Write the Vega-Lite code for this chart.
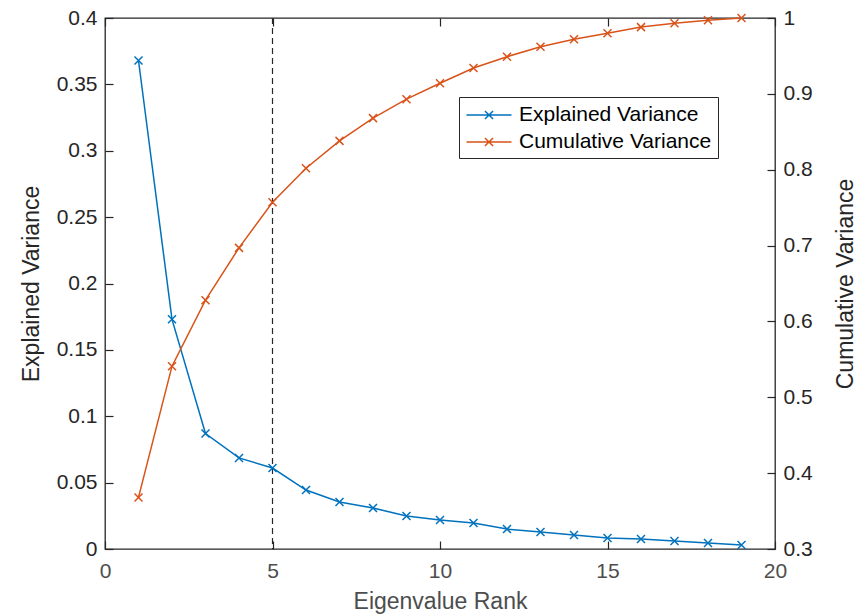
{
  "$schema": "https://vega.github.io/schema/vega-lite/v6.json",
  "width": 670,
  "height": 531,
  "autosize": {"type": "none"},
  "padding": {"left": 105, "top": 18, "right": 87, "bottom": 66},
  "config": {
    "font": "Liberation Sans",
    "view": {"stroke": "#262626", "strokeWidth": 1.3},
    "axis": {
      "grid": false,
      "domain": false,
      "labelFlush": false,
      "tickColor": "#262626",
      "tickWidth": 1.2,
      "tickSize": -8,
      "labelFontSize": 21,
      "titleFontSize": 23,
      "titleFontWeight": "normal",
      "labelColor": "#262626",
      "titleColor": "#262626"
    }
  },
  "data": {
    "values": [
      {"rank": 1, "explained": 0.368, "cumulative": 0.368},
      {"rank": 2, "explained": 0.173, "cumulative": 0.541},
      {"rank": 3, "explained": 0.087, "cumulative": 0.628},
      {"rank": 4, "explained": 0.0686, "cumulative": 0.697},
      {"rank": 5, "explained": 0.061, "cumulative": 0.757},
      {"rank": 6, "explained": 0.0444, "cumulative": 0.802},
      {"rank": 7, "explained": 0.0354, "cumulative": 0.838},
      {"rank": 8, "explained": 0.0309, "cumulative": 0.868},
      {"rank": 9, "explained": 0.0249, "cumulative": 0.893},
      {"rank": 10, "explained": 0.0218, "cumulative": 0.914},
      {"rank": 11, "explained": 0.0196, "cumulative": 0.934},
      {"rank": 12, "explained": 0.015, "cumulative": 0.949},
      {"rank": 13, "explained": 0.0128, "cumulative": 0.962},
      {"rank": 14, "explained": 0.0105, "cumulative": 0.972},
      {"rank": 15, "explained": 0.0083, "cumulative": 0.98},
      {"rank": 16, "explained": 0.0075, "cumulative": 0.988},
      {"rank": 17, "explained": 0.006, "cumulative": 0.993},
      {"rank": 18, "explained": 0.0045, "cumulative": 0.997},
      {"rank": 19, "explained": 0.003, "cumulative": 1.0}
    ]
  },
  "layer": [
    {
      "data": {"values": [{"cutoff": 5}]},
      "mark": {"type": "rule", "color": "#262626", "strokeWidth": 1.2, "strokeDash": [6, 4]},
      "encoding": {
        "x": {
          "field": "cutoff",
          "type": "quantitative",
          "scale": {"domain": [0, 20], "nice": false},
          "axis": {"orient": "top", "labels": false, "title": null, "values": [0, 5, 10, 15, 20]}
        }
      }
    },
    {
      "mark": {
        "type": "line",
        "strokeWidth": 1.5,
        "point": {"shape": "M-1,-1L1,1M-1,1L1,-1", "filled": false, "size": 64, "strokeWidth": 1.5}
      },
      "encoding": {
        "x": {
          "field": "rank",
          "type": "quantitative",
          "scale": {"domain": [0, 20], "nice": false},
          "axis": {
            "orient": "bottom",
            "title": "Eigenvalue Rank",
            "values": [0, 5, 10, 15, 20],
            "labelPadding": 19,
            "titlePadding": 9,
            "labelColor": "#4d4d4d",
            "titleColor": "#4d4d4d"
          }
        },
        "y": {
          "field": "explained",
          "type": "quantitative",
          "scale": {"domain": [0, 0.4], "nice": false},
          "axis": {
            "orient": "left",
            "title": "Explained Variance",
            "values": [0, 0.05, 0.1, 0.15, 0.2, 0.25, 0.3, 0.35, 0.4],
            "format": "~g",
            "labelPadding": 16,
            "titlePadding": 13
          }
        },
        "color": {
          "datum": "Explained Variance",
          "type": "nominal",
          "scale": {"domain": ["Explained Variance", "Cumulative Variance"], "range": ["#0072BD", "#D95319"]},
          "legend": {
            "orient": "none",
            "legendX": 354,
            "legendY": 79,
            "title": null,
            "strokeColor": "#262626",
            "fillColor": "white",
            "padding": 6,
            "labelFontSize": 21,
            "labelLimit": 400,
            "labelColor": "#000000",
            "labelOffset": 18,
            "rowPadding": 5,
            "symbolType": "M-2,0L2,0M-0.36,-0.36L0.36,0.36M-0.36,0.36L0.36,-0.36",
            "symbolSize": 506,
            "symbolOffset": 12,
            "symbolStrokeWidth": 1.5
          }
        }
      }
    },
    {
      "mark": {
        "type": "line",
        "strokeWidth": 1.5,
        "point": {"shape": "M-1,-1L1,1M-1,1L1,-1", "filled": false, "size": 64, "strokeWidth": 1.5}
      },
      "encoding": {
        "x": {"field": "rank", "type": "quantitative", "scale": {"domain": [0, 20], "nice": false}, "axis": null},
        "y": {
          "field": "cumulative",
          "type": "quantitative",
          "scale": {"domain": [0.3, 1], "nice": false},
          "axis": {
            "orient": "right",
            "title": "Cumulative Variance",
            "values": [0.3, 0.4, 0.5, 0.6, 0.7, 0.8, 0.9, 1],
            "format": "~g",
            "labelPadding": 16,
            "titlePadding": 22,
            "titleAngle": 270,
            "titleBaseline": "top"
          }
        },
        "color": {"datum": "Cumulative Variance", "type": "nominal"}
      }
    }
  ],
  "resolve": {"scale": {"y": "independent"}, "axis": {"x": "independent", "y": "independent"}}
}
